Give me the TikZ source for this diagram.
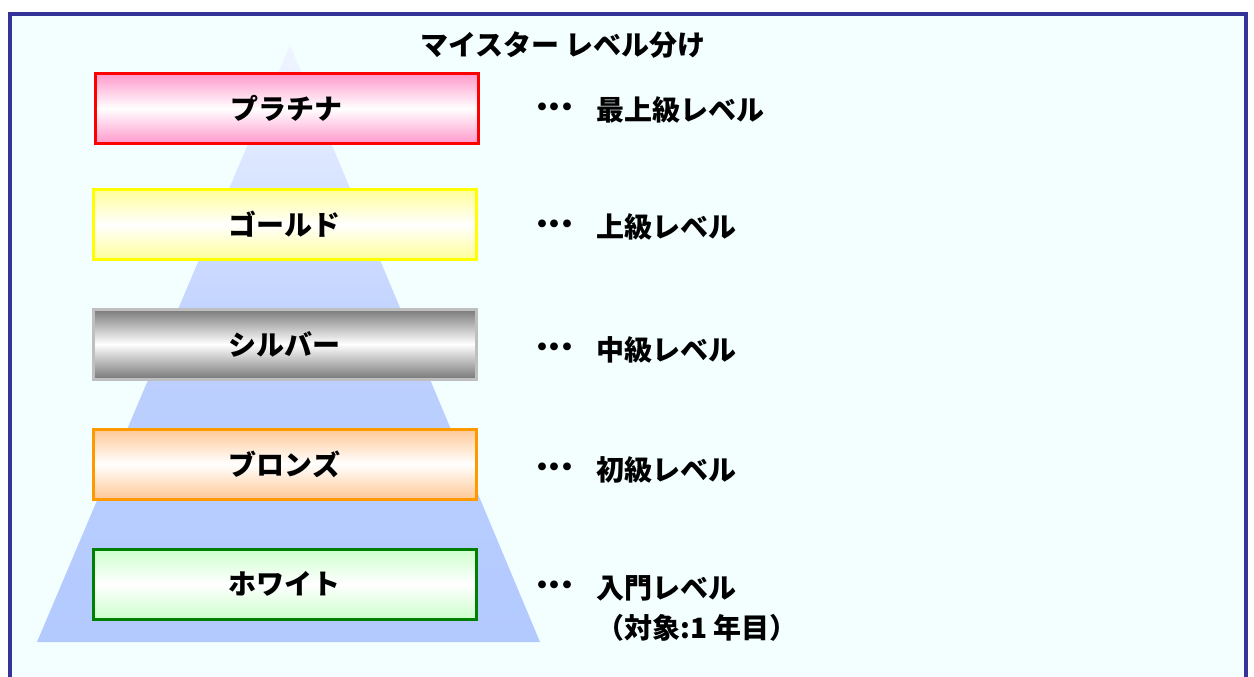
\documentclass[tikz,border=0pt]{standalone}
\usepackage{fontspec}
\newfontfamily\jp{Noto Sans CJK JP}
\definecolor{framebl}{HTML}{333399}
\definecolor{bgc}{HTML}{F3FFFF}
\definecolor{pyrtop}{HTML}{F0F5FF}
\definecolor{pyrmid}{HTML}{BDD0FF}
\definecolor{pyrbot}{HTML}{B3CAFF}
\definecolor{platline}{HTML}{FF0000}
\definecolor{platfill}{HTML}{FF99CC}
\definecolor{goldline}{HTML}{FFFF00}
\definecolor{goldfill}{HTML}{FFFF99}
\definecolor{silvline}{HTML}{BFBFBF}
\definecolor{silvfill}{HTML}{787878}
\definecolor{bronline}{HTML}{FF9900}
\definecolor{bronfill}{HTML}{FFC896}
\definecolor{whitline}{HTML}{008000}
\definecolor{whitfill}{HTML}{CCFFCC}
\newcommand{\mydots}{\makebox[12.5pt][c]{・}\makebox[12.5pt][c]{・}\makebox[12.5pt][c]{・}}
\begin{document}
\begin{tikzpicture}[x=1pt,y=-1pt,
  every node/.style={font=\jp\bfseries\fontsize{28}{32}\selectfont, text=black, inner sep=0pt},
  levelbox/.style={line width=3pt, minimum width=383pt, minimum height=70pt},
  grad/.style={top color=#1, bottom color=#1, middle color=white},
  lbl/.style={anchor=west}]
\useasboundingbox (0,0) rectangle (1254,677);
% frame
\filldraw[draw=framebl, fill=bgc, line width=3.5pt] (10,14) rectangle (1246,710);
% pyramid
\path[top color=pyrtop, bottom color=pyrbot, middle color=pyrmid] (290,45) -- (540,642) -- (37,642) -- cycle;
% title
\node (title) at (563,45) {マイスター レベル分け};
% box fills
\path[grad=platfill] (95,73.5) rectangle (478,143.5);
\path[grad=goldfill] (93,189.5) rectangle (476,259.5);
\path[grad=silvfill] (93,309) rectangle (476,379);
\path[grad=bronfill] (93,429) rectangle (476,499);
\path[grad=whitfill] (93,549) rectangle (476,619);
% boxes
\node[levelbox, draw=platline] (plat) at (286.5,108.5) {\raisebox{-2pt}{プラチナ}};
\node[levelbox, draw=goldline] (gold) at (284.5,224.5) {\raisebox{-2pt}{ゴールド}};
\node[levelbox, draw=silvline] (silver) at (284.5,344) {\raisebox{-2pt}{シルバー}};
\node[levelbox, draw=bronline] (bronze) at (284.5,464) {\raisebox{-2pt}{ブロンズ}};
\node[levelbox, draw=whitline] (white) at (284.5,584) {\raisebox{-2pt}{ホワイト}};
% labels
\node[lbl] (d1) at (536,110) {\mydots};
\node[lbl] (l1) at (596,110) {最上級レベル};
\node[lbl] (d2) at (536,227) {\mydots};
\node[lbl] (l2) at (596,227) {上級レベル};
\node[lbl] (d3) at (536,350) {\mydots};
\node[lbl] (l3) at (596,350) {中級レベル};
\node[lbl] (d4) at (536,470) {\mydots};
\node[lbl] (l4) at (596,470) {初級レベル};
\node[lbl] (d5) at (536,588) {\mydots};
\node[lbl] (l5) at (596,588) {入門レベル};
\node[lbl] (l6) at (596,628) {（対象:1 年目）};
\end{tikzpicture}
\end{document}
